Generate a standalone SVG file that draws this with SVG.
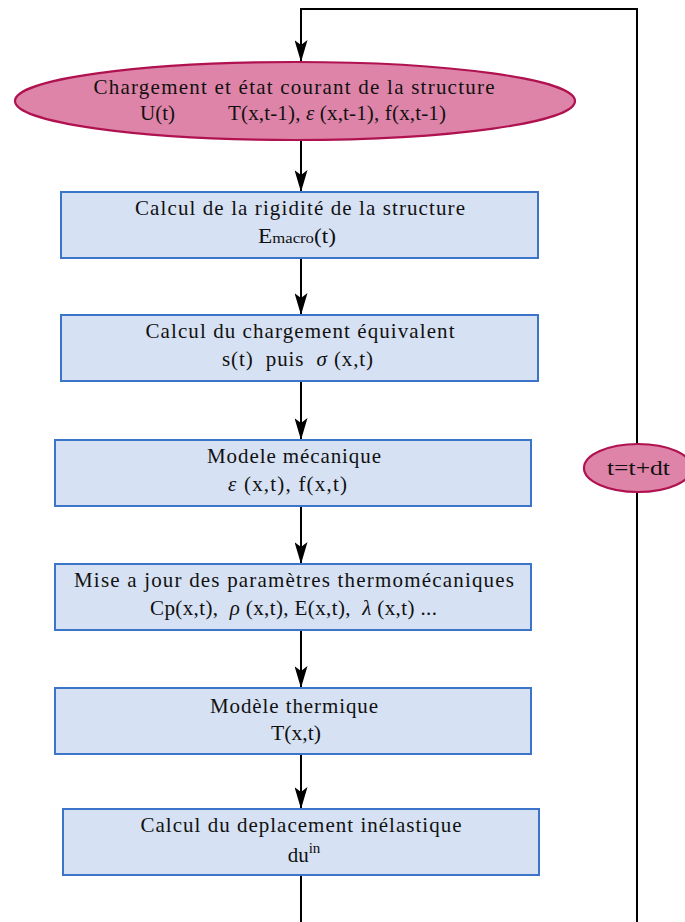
<svg xmlns="http://www.w3.org/2000/svg" width="685" height="922" viewBox="0 0 685 922">
<defs>
<marker id="arr" markerUnits="userSpaceOnUse" viewBox="0 0 22 13" refX="22" refY="6.5" markerWidth="22" markerHeight="13" orient="auto">
<path d="M0,0 L22,6.5 L0,13 L5,6.5 z" fill="#000"/>
</marker>
<style>
.ell{fill:#DE84A8;stroke:#B01250;stroke-width:2.2}
.box{fill:#D6E1F3;stroke:#3B74C9;stroke-width:2}
.t{font-family:"Liberation Serif","DejaVu Serif",serif;font-size:21px;fill:#111;text-anchor:middle}
.g{font-style:italic}
.sub{font-size:15px}
.sup{font-size:15px}
.con{fill:none;stroke:#000;stroke-width:2}
</style>
</defs>
<rect width="685" height="922" fill="#fff"/>
<g id="connectors">
<path class="con" d="M637,922 L637,9 L301,9 L301,62" marker-end="url(#arr)"/>
<path class="con" d="M301,140 L301,192" marker-end="url(#arr)"/>
<path class="con" d="M301,258 L301,315" marker-end="url(#arr)"/>
<path class="con" d="M301,381 L301,440" marker-end="url(#arr)"/>
<path class="con" d="M301,506 L301,564" marker-end="url(#arr)"/>
<path class="con" d="M301,630 L301,688" marker-end="url(#arr)"/>
<path class="con" d="M301,754 L301,809" marker-end="url(#arr)"/>
<path class="con" d="M301,875 L301,922"/>
</g>
<g id="n0">
<ellipse class="ell" cx="295" cy="101" rx="280" ry="39"/>
<text class="t" x="294" y="94" textLength="401" lengthAdjust="spacing">Chargement et état courant de la structure</text>
<text class="t" x="157.5" y="120" textLength="35" lengthAdjust="spacingAndGlyphs">U(t)</text>
<text class="t" x="337" y="120" textLength="218" lengthAdjust="spacing">T(x,t-1), <tspan class="g">ε</tspan> (x,t-1), f(x,t-1)</text>
</g>
<g id="n1">
<rect class="box" x="61" y="192" width="477" height="66"/>
<text class="t" x="300" y="215" textLength="330" lengthAdjust="spacing">Calcul de la rigidité de la structure</text>
<text class="t" x="297" y="243" textLength="78" lengthAdjust="spacingAndGlyphs">E<tspan class="sub">macro</tspan>(t)</text>
</g>
<g id="n2">
<rect class="box" x="61" y="315" width="477" height="66"/>
<text class="t" x="300" y="338" textLength="309" lengthAdjust="spacing">Calcul du chargement équivalent</text>
<text class="t" x="297.5" y="366" textLength="151" lengthAdjust="spacing" xml:space="preserve">s(t)  puis  <tspan class="g">σ</tspan> (x,t)</text>
</g>
<g id="n3">
<rect class="box" x="55" y="440" width="476" height="66"/>
<text class="t" x="294" y="463" textLength="174" lengthAdjust="spacing">Modele mécanique</text>
<text class="t" x="287.5" y="491" textLength="119" lengthAdjust="spacing" xml:space="preserve"><tspan class="g">ε</tspan> (x,t), f(x,t)</text>
</g>
<g id="n4">
<rect class="box" x="55" y="564" width="476" height="66"/>
<text class="t" x="294" y="587" textLength="440" lengthAdjust="spacing">Mise a jour des paramètres thermomécaniques</text>
<text class="t" x="293.5" y="615" textLength="287" lengthAdjust="spacing" xml:space="preserve">Cp(x,t),  <tspan class="g">ρ</tspan> (x,t), E(x,t),  <tspan class="g">λ</tspan> (x,t) ...</text>
</g>
<g id="n5">
<rect class="box" x="55" y="688" width="476" height="66"/>
<text class="t" x="294" y="713" textLength="168" lengthAdjust="spacing">Modèle thermique</text>
<text class="t" x="296" y="740" textLength="50" lengthAdjust="spacingAndGlyphs">T(x,t)</text>
</g>
<g id="n6">
<rect class="box" x="63" y="809" width="476" height="66"/>
<text class="t" x="301" y="832" textLength="321" lengthAdjust="spacing">Calcul du deplacement inélastique</text>
<text class="t" x="304" y="862">du<tspan class="sup" dy="-9">in</tspan></text>
</g>
<g id="n7">
<ellipse class="ell" cx="638" cy="468" rx="54" ry="24"/>
<text class="t" x="638.5" y="475" textLength="63" lengthAdjust="spacingAndGlyphs">t=t+dt</text>
</g>
</svg>
